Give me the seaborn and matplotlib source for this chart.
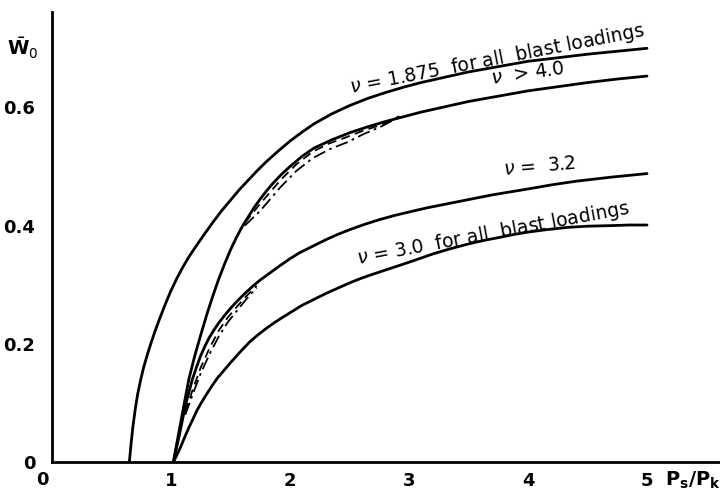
import matplotlib
matplotlib.use("Agg")
import matplotlib.pyplot as plt
import seaborn as sns

# Dimensionless peak deflection W0 versus pressure ratio Ps/Pk
x_nu1875 = [0.65, 0.665, 0.68, 0.70, 0.72, 0.745, 0.77, 0.80, 0.83, 0.865, 0.90,
            0.95, 1.0, 1.05, 1.1, 1.15, 1.2, 1.275, 1.35, 1.425, 1.5, 1.575, 1.65,
            1.725, 1.8, 1.9, 2.0, 2.1, 2.2, 2.35, 2.5, 2.65, 2.8, 2.95, 3.1, 3.3,
            3.5, 3.75, 4.0, 4.25, 4.5, 4.75, 5.0]
w_nu1875 = [0.0, 0.032, 0.06, 0.09, 0.115, 0.139, 0.16, 0.181, 0.20, 0.221, 0.24,
            0.266, 0.29, 0.311, 0.33, 0.347, 0.362, 0.384, 0.405, 0.425, 0.443,
            0.461, 0.477, 0.493, 0.508, 0.526, 0.543, 0.558, 0.572, 0.589, 0.603,
            0.615, 0.625, 0.634, 0.642, 0.651, 0.660, 0.669, 0.678, 0.684, 0.690,
            0.695, 0.700]

x_nu4 = [1.02, 1.05, 1.08, 1.115, 1.15, 1.2, 1.25, 1.3, 1.35, 1.4, 1.45, 1.5,
         1.55, 1.6, 1.65, 1.7, 1.75, 1.8, 1.85, 1.925, 2.0, 2.1, 2.2, 2.35, 2.5,
         2.65, 2.8, 2.95, 3.1, 3.3, 3.5, 3.75, 4.0, 4.25, 4.5, 4.75, 5.0]
w_nu4 = [0.0, 0.033, 0.065, 0.103, 0.14, 0.18, 0.215, 0.249, 0.28, 0.309, 0.335,
         0.359, 0.38, 0.399, 0.415, 0.431, 0.445, 0.458, 0.47, 0.486, 0.50,
         0.517, 0.531, 0.545, 0.557, 0.567, 0.576, 0.584, 0.592, 0.601, 0.610,
         0.619, 0.628, 0.635, 0.642, 0.648, 0.653]

x_nu4_b = [1.62, 1.75, 1.92, 2.05, 2.19, 2.33, 2.48, 2.62, 2.76, 2.92]
w_nu4_dash = [0.405, 0.437, 0.477, 0.503, 0.525, 0.539, 0.550, 0.561, 0.570, 0.585]
w_nu4_dashdot = [0.400, 0.425, 0.465, 0.492, 0.514, 0.529, 0.541, 0.555, 0.567, 0.584]

x_nu32 = [1.02, 1.045, 1.07, 1.095, 1.12, 1.15, 1.18, 1.215, 1.25, 1.285, 1.32,
          1.36, 1.4, 1.45, 1.5, 1.56, 1.62, 1.685, 1.75, 1.825, 1.9, 2.0, 2.08,
          2.2, 2.3, 2.4, 2.5, 2.625, 2.75, 2.875, 3.0, 3.15, 3.3, 3.5, 3.7, 3.85,
          4.0, 4.2, 4.4, 4.7, 5.0]
w_nu32 = [0.0, 0.023, 0.045, 0.07, 0.095, 0.118, 0.14, 0.161, 0.18, 0.196, 0.21,
          0.223, 0.235, 0.248, 0.26, 0.273, 0.285, 0.297, 0.308, 0.319, 0.33,
          0.344, 0.354, 0.366, 0.376, 0.385, 0.393, 0.402, 0.41, 0.417, 0.423,
          0.43, 0.436, 0.444, 0.452, 0.457, 0.462, 0.469, 0.475, 0.482, 0.488]

x_nu32_b = [1.12, 1.185, 1.25, 1.325, 1.4, 1.475, 1.55, 1.635, 1.72]
w_nu32_dash = [0.085, 0.124, 0.160, 0.193, 0.222, 0.244, 0.262, 0.281, 0.298]
w_nu32_dashdot = [0.080, 0.116, 0.150, 0.183, 0.212, 0.236, 0.255, 0.276, 0.295]

x_nu3 = [1.02, 1.05, 1.08, 1.115, 1.15, 1.185, 1.22, 1.26, 1.3, 1.345, 1.39,
         1.445, 1.5, 1.58, 1.66, 1.73, 1.8, 1.87, 1.94, 2.02, 2.1, 2.2, 2.3,
         2.4, 2.5, 2.6, 2.7, 2.85, 3.0, 3.1, 3.2, 3.35, 3.5, 3.63, 3.76, 3.88,
         4.0, 4.15, 4.33, 4.5, 4.7, 4.85, 5.0]
w_nu3 = [0.0, 0.012, 0.025, 0.042, 0.058, 0.073, 0.088, 0.102, 0.115, 0.129,
         0.142, 0.155, 0.168, 0.186, 0.203, 0.215, 0.226, 0.236, 0.245, 0.255,
         0.265, 0.275, 0.285, 0.294, 0.303, 0.311, 0.318, 0.328, 0.338, 0.345,
         0.352, 0.361, 0.369, 0.375, 0.380, 0.385, 0.389, 0.393, 0.397, 0.399,
         0.400, 0.401, 0.401]

x_ticks = [1, 2, 3, 4, 5]
y_major = [0.0, 0.2, 0.4, 0.6]
y_labels = ["0", "0.2", "0.4", "0.6"]
y_minor = [0.1, 0.3, 0.5, 0.7]

sns.set_theme(style="white")
plt.rcParams["font.family"] = ["DejaVu Sans"]
plt.rcParams["mathtext.fontset"] = "dejavusans"
plt.rcParams["text.color"] = "black"
plt.rcParams["xtick.color"] = "black"
plt.rcParams["ytick.color"] = "black"

fig = plt.figure(figsize=(7.2, 4.95), dpi=100)
ax = fig.add_axes([52 / 720, 33 / 495, 668 / 720, 450 / 495])

lw = 2.0
for xs, ys in ((x_nu1875, w_nu1875), (x_nu4, w_nu4), (x_nu32, w_nu32), (x_nu3, w_nu3)):
    sns.lineplot(x=xs, y=ys, ax=ax, color="black", lw=lw, sort=False,
                 estimator=None, solid_joinstyle="round")

dash = (0, (5, 3))
dashdot = (0, (7, 2.5, 1.5, 2.5))
for xs, ys, ls in ((x_nu4_b, w_nu4_dash, dash), (x_nu4_b, w_nu4_dashdot, dashdot),
                   (x_nu32_b, w_nu32_dash, dash), (x_nu32_b, w_nu32_dashdot, dashdot)):
    sns.lineplot(x=xs, y=ys, ax=ax, color="black", lw=1.3, linestyle=ls,
                 sort=False, estimator=None)

ax.set_xlim(0, 668 / 119)
ax.set_ylim(0, 450 / 591)

# axes frame: only left and bottom spines, inward ticks
for side in ("top", "right"):
    ax.spines[side].set_visible(False)
for side in ("left", "bottom"):
    ax.spines[side].set_linewidth(2.0)
    ax.spines[side].set_color("black")

fs = 13
ax.set_xticks(x_ticks)
ax.set_xticklabels([str(t) for t in x_ticks], fontsize=fs, fontweight="bold")
ax.set_xticks([0.75], minor=True)
ax.set_yticks(y_major)
ax.set_yticklabels(y_labels, fontsize=fs, fontweight="bold")
ax.set_yticks(y_minor, minor=True)
ax.tick_params(axis="both", which="both", direction="in", color="black",
               width=1.3, length=6)
ax.tick_params(axis="x", which="major", pad=7)
ax.tick_params(axis="y", which="major", pad=12)
ax.grid(False)

# origin label on the x axis and axis titles
ax.text(-0.085, -0.031, "0", fontsize=fs, fontweight="bold", ha="center",
        va="center", clip_on=False)
ax.text(-0.25, 0.70, r"$\bar{\mathbf{W}}_{0}$", fontsize=14,
        ha="center", va="center", clip_on=False)
ax.text(5.15, -0.031, r"$\mathbf{P_s/P_k}$", fontsize=14, ha="left",
        va="center", clip_on=False)

# curve annotations
tfs = 13.5
ax.text(3.74, 0.681, r"$\nu$ = 1.875  for all  blast loadings", fontsize=tfs,
        rotation=11, ha="center", va="center", rotation_mode="anchor")
ax.text(4.0, 0.657, r"$\nu$  > 4.0", fontsize=tfs, rotation=8,
        ha="center", va="center", rotation_mode="anchor")
ax.text(4.10, 0.501, r"$\nu$ =  3.2", fontsize=tfs, rotation=5,
        ha="center", va="center", rotation_mode="anchor")
ax.text(3.71, 0.387, r"$\nu$ = 3.0  for all  blast loadings", fontsize=tfs,
        rotation=10.5, ha="center", va="center", rotation_mode="anchor")

fig.savefig("out.png", dpi=100)
